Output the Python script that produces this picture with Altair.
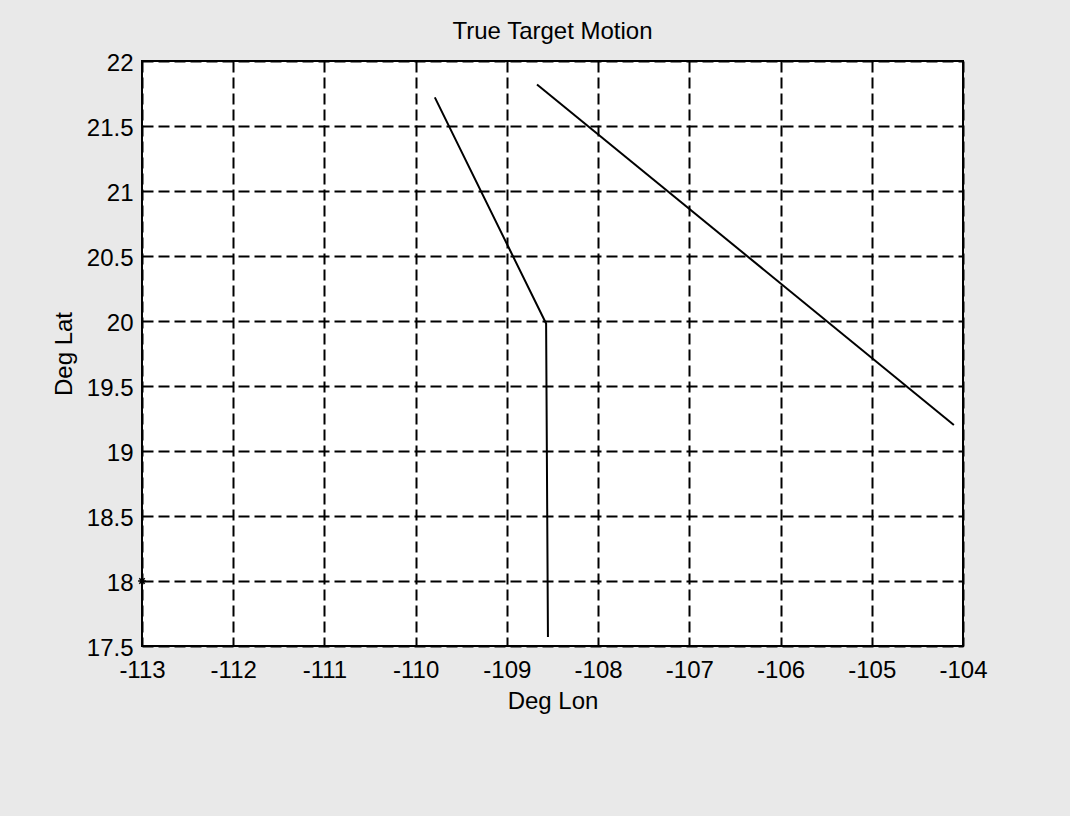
import altair as alt
import pandas as pd

# Ground tracks of the two targets (degrees longitude / latitude)
track_names = ["Target 1", "Target 2"]
track1_lon = [-109.79, -108.57, -108.55]
track1_lat = [21.72, 19.98, 17.57]
track2_lon = [-108.67, -104.10]
track2_lat = [21.82, 19.20]

# Reference marker drawn with an asterisk
marker_lon = [-113.0]
marker_lat = [18.0]

lon_ticks = [-113, -112, -111, -110, -109, -108, -107, -106, -105, -104]
lat_ticks = [17.5, 18, 18.5, 19, 19.5, 20, 20.5, 21, 21.5, 22]

rows = []
for name, lons, lats in zip(track_names, [track1_lon, track2_lon], [track1_lat, track2_lat]):
    for i, (lo, la) in enumerate(zip(lons, lats)):
        rows.append({"track": name, "step": i, "lon": lo, "lat": la})
tracks = pd.DataFrame(rows)
markers = pd.DataFrame({"lon": marker_lon, "lat": marker_lat})

FONT = "Liberation Sans"
PLOT_W, PLOT_H = 821, 585

x_scale = alt.Scale(domain=[lon_ticks[0], lon_ticks[-1]], nice=False, zero=False)
y_scale = alt.Scale(domain=[lat_ticks[0], lat_ticks[-1]], nice=False, zero=False)

grid_style = dict(
    grid=True, gridColor="black", gridDash=[11, 5], gridWidth=2, gridOpacity=1,
    domain=False, ticks=False, tickSize=0,
    labelFont=FONT, labelFontSize=24, labelColor="black",
    labelOverlap=False, labelFlush=False,
    titleFont=FONT, titleFontSize=24, titleFontWeight="normal", titleColor="black",
    labelExpr="'' + datum.value",
)

x_axis = alt.Axis(
    title="Deg Lon", values=lon_ticks,
    labelPadding=31, labelBaseline="alphabetic",
    titleX=PLOT_W / 2, titleY=62, titleBaseline="alphabetic", titleAlign="center",
    **grid_style,
)
y_axis = alt.Axis(
    title="Deg Lat", values=lat_ticks,
    labelPadding=9, labelAlign="right", labelBaseline="middle", labelOffset=2,
    titleX=-71, titleY=PLOT_H / 2, titleAngle=270,
    titleBaseline="alphabetic", titleAlign="center",
    **grid_style,
)

lines = alt.Chart(tracks).mark_line(color="black", strokeWidth=2).encode(
    x=alt.X("lon:Q", scale=x_scale, axis=x_axis),
    y=alt.Y("lat:Q", scale=y_scale, axis=y_axis),
    detail="track:N",
    order="step:O",
)

asterisk = "M-1,0L1,0M0,-1L0,1M-0.7,-0.7L0.7,0.7M-0.7,0.7L0.7,-0.7"
points = alt.Chart(markers).mark_point(
    shape=asterisk, filled=False, color="black", opacity=1, size=60, strokeWidth=1.5, clip=False
).encode(
    x=alt.X("lon:Q", scale=x_scale),
    y=alt.Y("lat:Q", scale=y_scale),
)

chart = (
    alt.layer(lines, points)
    .properties(
        width=PLOT_W,
        height=PLOT_H,
        title=alt.TitleParams(
            "True Target Motion", font=FONT, fontSize=24, fontWeight="normal",
            color="black", anchor="middle", baseline="alphabetic", offset=16, dy=28,
        ),
        autosize=alt.AutoSizeParams(type="none"),
        padding={"left": 142, "top": 61, "right": 1070 - 142 - PLOT_W, "bottom": 816 - 61 - PLOT_H},
        background="#e9e9e9",
    )
    .configure_view(stroke="black", strokeWidth=2, fill="white")
)

chart.save("out.html", embed_options={"renderer": "svg", "actions": False})
